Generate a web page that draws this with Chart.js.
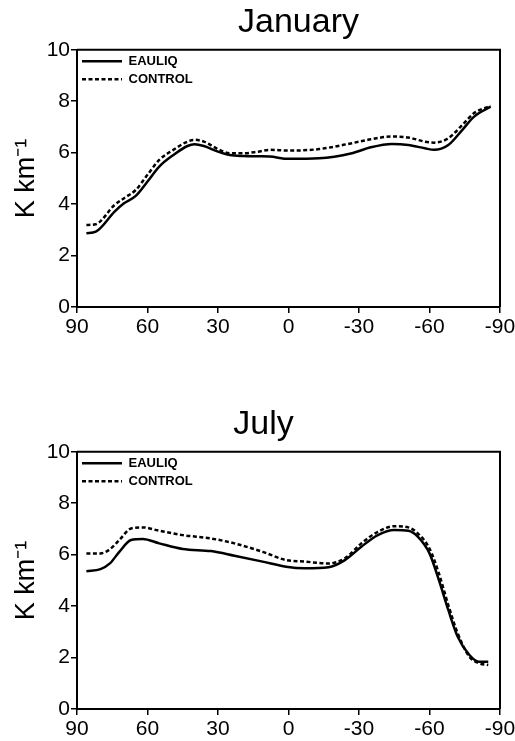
<!DOCTYPE html>
<html>
<head>
<meta charset="utf-8">
<script src="https://cdn.jsdelivr.net/npm/chart.js@4.4.1/dist/chart.umd.min.js"></script>
<style>
    html, body { margin: 0; padding: 0; background: #fff; }
    body { width: 515px; height: 741px; position: relative; overflow: hidden; }
    canvas { position: absolute; left: 0; }
    #janCanvas { top: 0; }
    #julCanvas { top: 402px; }
</style>
</head>
<body>
<canvas id="janCanvas" width="515" height="339"></canvas>
<canvas id="julCanvas" width="515" height="339"></canvas>
<script>
// zonal mean lapse rate (K/km) by latitude, north to south
const seriesNames = ["EAULIQ", "CONTROL"];
const latTicks = [90, 60, 30, 0, -30, -60, -90];
const rateTicks = [0, 2, 4, 6, 8, 10];

const janLat = [86, 82, 74, 70, 65, 60, 55, 49, 43, 40, 36, 30, 25, 19, 13, 8, 0, -13, -27, -35, -44, -51, -58, -62, -68, -74, -79, -86];
const janEauliq = [2.87, 2.93, 3.71, 4.03, 4.32, 4.88, 5.46, 5.91, 6.26, 6.33, 6.26, 6.04, 5.91, 5.87, 5.86, 5.85, 5.76, 5.78, 5.98, 6.21, 6.34, 6.3, 6.17, 6.11, 6.3, 6.89, 7.4, 7.79];
const janControl = [3.19, 3.22, 3.97, 4.23, 4.55, 5.14, 5.72, 6.11, 6.43, 6.5, 6.43, 6.14, 5.98, 5.98, 6.04, 6.11, 6.08, 6.14, 6.37, 6.52, 6.63, 6.59, 6.43, 6.39, 6.56, 7.08, 7.54, 7.82];

const julLat = [86, 80, 76, 72, 67, 62, 55, 45, 33, 23, 11, 1, -7, -17, -24, -31, -38, -45, -51, -55, -60, -64, -68, -72, -77, -81, -85];
const julEauliq = [5.36, 5.44, 5.66, 6.11, 6.57, 6.61, 6.44, 6.22, 6.14, 5.96, 5.73, 5.53, 5.47, 5.51, 5.79, 6.31, 6.76, 6.96, 6.93, 6.7, 6.05, 5.01, 3.85, 2.81, 2.1, 1.84, 1.84];
const julControl = [6.05, 6.05, 6.21, 6.57, 7.02, 7.06, 6.93, 6.76, 6.63, 6.44, 6.11, 5.79, 5.73, 5.66, 5.86, 6.44, 6.89, 7.11, 7.06, 6.83, 6.24, 5.27, 4.04, 2.94, 2.03, 1.78, 1.71];

Chart.defaults.font.family = '"Liberation Sans", Arial, Helvetica, sans-serif';
Chart.defaults.color = "#000";

// top and right edges of the plot frame
const frameBox = {
    id: "frameBox",
    afterDatasetsDraw(chart) {
        const {ctx, chartArea: a} = chart;
        ctx.save();
        ctx.strokeStyle = "#000";
        ctx.lineWidth = 2;
        ctx.beginPath();
        ctx.moveTo(a.left, a.top);
        ctx.lineTo(a.right, a.top);
        ctx.lineTo(a.right, a.bottom);
        ctx.stroke();
        ctx.restore();
    },
};

// nudge the title sideways and pin the legend to the top of the plot
const layoutTweak = {
    id: "layoutTweak",
    afterLayout(chart, args, opts) {
        const t = chart.titleBlock;
        if (t && opts.dx) {
            t.left += opts.dx;
            t.right += opts.dx;
        }
        const lg = chart.legend;
        if (lg) {
            const h = lg.height;
            lg.top = chart.chartArea.top;
            lg.bottom = lg.top + h;
        }
    },
};

function toPoints(lat, values) {
    return lat.map((x, i) => ({x: x, y: values[i]}));
}

function lineLabels(chart) {
    return chart.data.datasets.map((ds, i) => ({
        text: ds.label,
        datasetIndex: i,
        fillStyle: "rgba(0,0,0,0)",
        strokeStyle: ds.borderColor,
        fontColor: "#000",
        lineWidth: ds.borderWidth,
        lineDash: ds.borderDash || [],
        pointStyle: "line",
        hidden: false,
    }));
}

function makeLapseChart(canvasId, month, dx, lat, eauliq, control) {
    const canvas = document.getElementById(canvasId);
    return new Chart(canvas, {
        type: "line",
        data: {
            datasets: [
                {
                    label: seriesNames[0],
                    data: toPoints(lat, eauliq),
                    borderColor: "#000",
                    borderWidth: 2.5,
                },
                {
                    label: seriesNames[1],
                    data: toPoints(lat, control),
                    borderColor: "#000",
                    borderWidth: 2.5,
                    borderDash: [4, 2.5],
                },
            ],
        },
        options: {
            responsive: false,
            animation: false,
            cubicInterpolationMode: "monotone",
            elements: {point: {radius: 0}},
            layout: {padding: {left: 0, right: 15, top: 0, bottom: 0}},
            plugins: {
                title: {
                    display: true,
                    text: month,
                    fullSize: false,
                    font: {size: 34, weight: "normal"},
                    padding: {top: 2, bottom: 7},
                },
                layoutTweak: {dx: dx},
                legend: {
                    position: "chartArea",
                    align: "start",
                    labels: {
                        usePointStyle: true,
                        pointStyleWidth: 40,
                        boxHeight: 13,
                        padding: 5,
                        font: {size: 13, weight: "bold"},
                        generateLabels: lineLabels,
                    },
                },
                tooltip: {enabled: false},
            },
            scales: {
                x: {
                    type: "linear",
                    reverse: true,
                    min: -90,
                    max: 90,
                    afterBuildTicks: (scale) => {
                        scale.ticks = latTicks.map((v) => ({value: v}));
                    },
                    afterFit: (scale) => {
                        scale.height = 32;
                        scale.paddingLeft = 0;
                        scale.paddingRight = 0;
                    },
                    grid: {drawOnChartArea: false, tickLength: 6, color: "#000", lineWidth: 1.5},
                    border: {color: "#000", width: 2},
                    ticks: {font: {size: 21}, padding: 2, maxRotation: 0},
                },
                y: {
                    min: 0,
                    max: 10,
                    afterBuildTicks: (scale) => {
                        scale.ticks = rateTicks.map((v) => ({value: v}));
                    },
                    afterFit: (scale) => {
                        scale.width = 77;
                        scale.paddingTop = 0;
                        scale.paddingBottom = 0;
                    },
                    grid: {drawOnChartArea: false, tickLength: 6, color: "#000", lineWidth: 1.5},
                    border: {color: "#000", width: 2},
                    ticks: {font: {size: 21}, padding: 1},
                    title: {
                        display: true,
                        text: "K km\u207B\u00B9",
                        font: {size: 27},
                        padding: {top: 10},
                    },
                },
            },
        },
        plugins: [frameBox, layoutTweak],
    });
}

makeLapseChart("janCanvas", "January", 10, janLat, janEauliq, janControl);
makeLapseChart("julCanvas", "July", -25, julLat, julEauliq, julControl);
</script>
</body>
</html>
